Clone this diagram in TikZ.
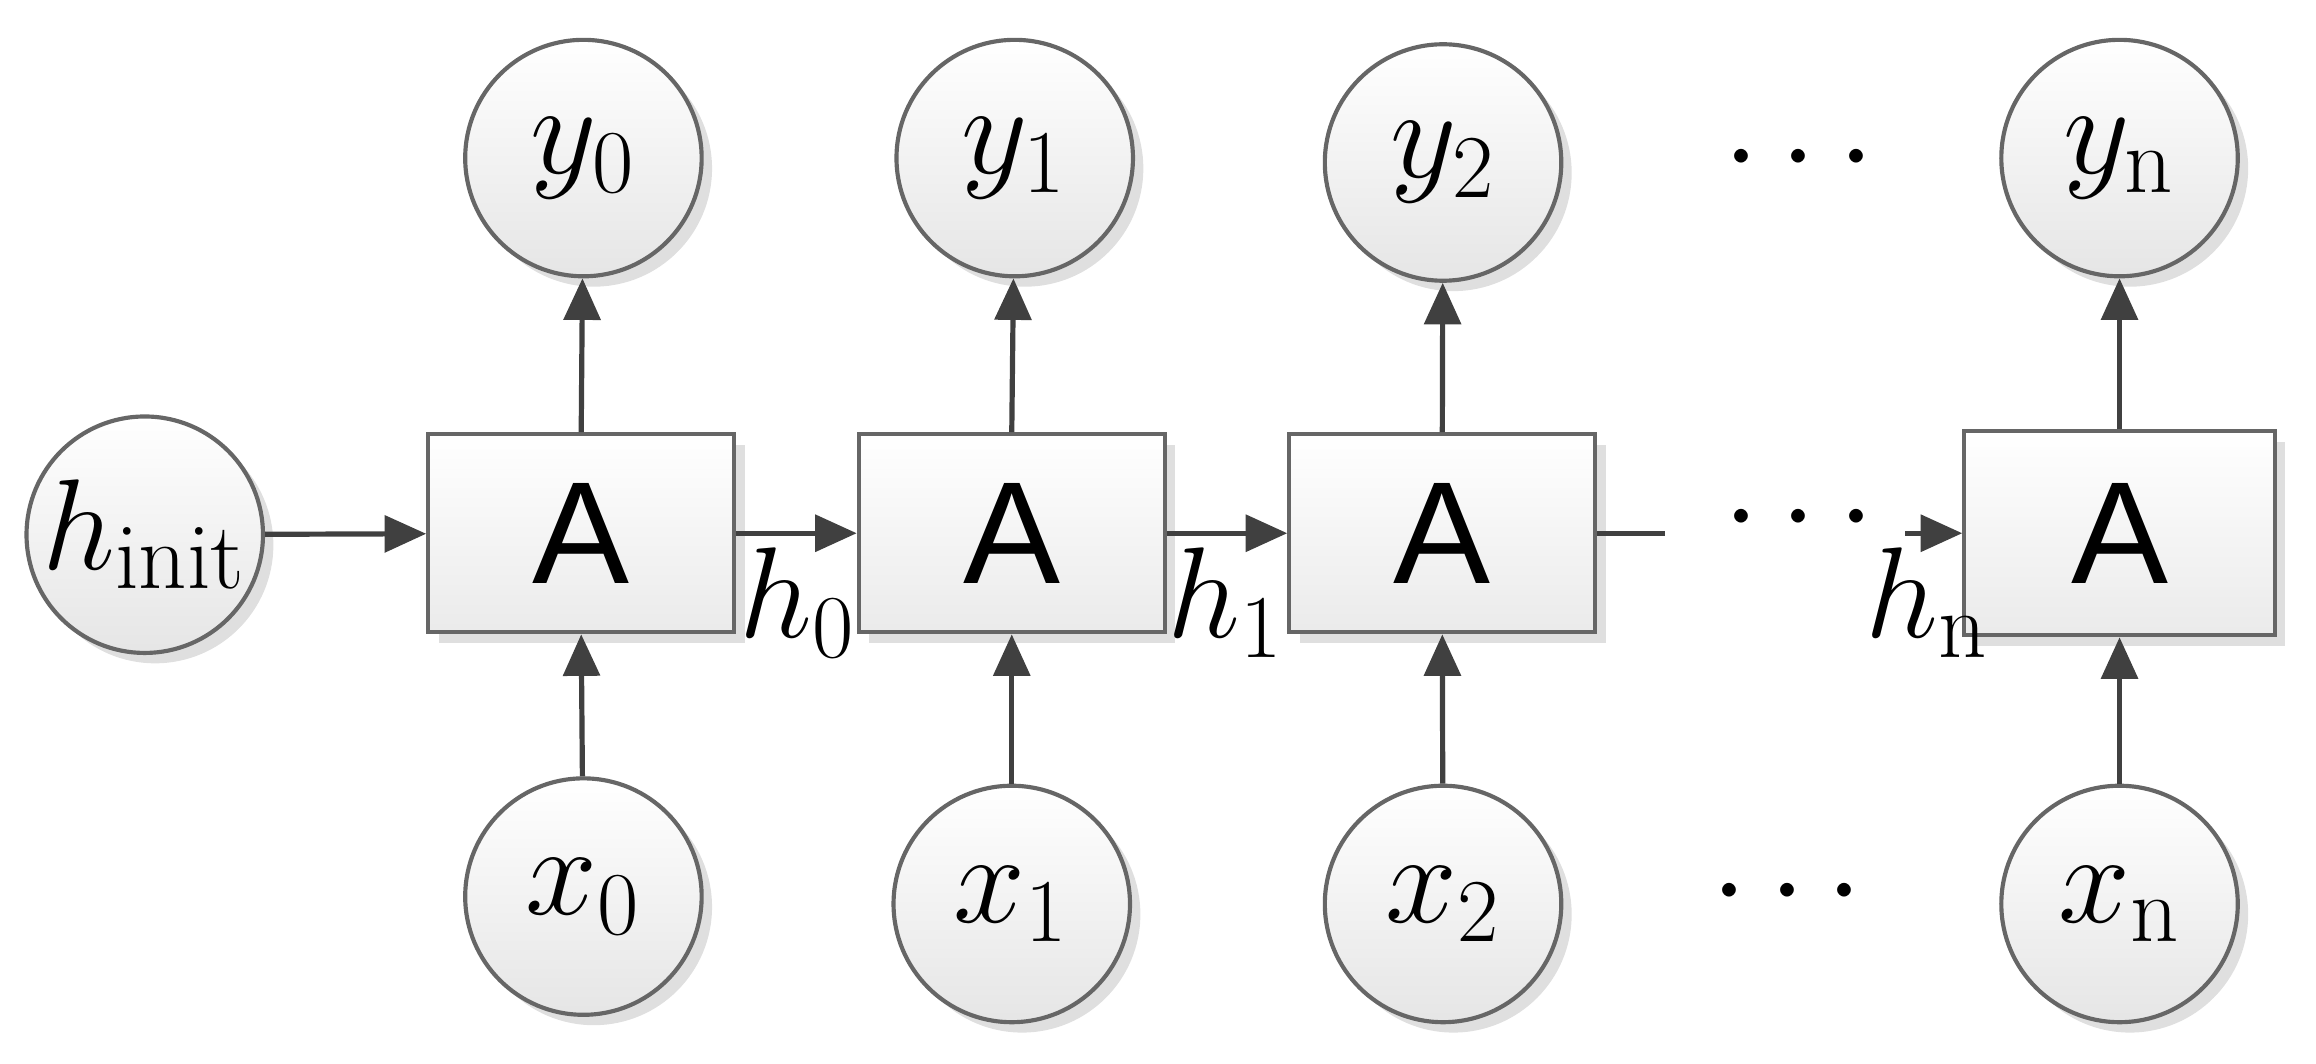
\documentclass[tikz,border=0pt]{standalone}
\usepackage{fontspec}
\newfontfamily\sansA{Liberation Sans}
\usetikzlibrary{arrows.meta,shadows}
\begin{document}
\begin{tikzpicture}[x=0.01cm,y=-0.01cm,
  circ/.style={circle,draw=black!60,line width=0.8pt,minimum size=1.6cm,inner sep=0pt,
    top color=white,bottom color=black!10,drop shadow={shadow xshift=2pt,shadow yshift=-2pt,opacity=0.25},
    font=\fontsize{26}{30}\selectfont},
  box/.style={draw=black!60,line width=0.8pt,minimum width=2.07cm,minimum height=1.34cm,inner sep=0pt,
    top color=white,bottom color=black!8,drop shadow={shadow xshift=2pt,shadow yshift=-2pt,opacity=0.25},
    font=\sansA\fontsize{28}{32}\selectfont},
  arr/.style={draw=black!75,line width=1pt,-{Triangle[length=8pt,width=7pt]}},
  lab/.style={font=\fontsize{26}{30}\selectfont,inner sep=0pt},
  dots/.style={font=\fontsize{30}{30}\selectfont\bfseries,inner sep=0pt}]
\useasboundingbox (0,0) rectangle (1568,720);
\node[circ] (hi) at (98,362) {$h_{\mathrm{init}}$};
\node[box] (A0) at (393.5,361) {A};
\node[box] (A1) at (685,361) {A};
\node[box] (A2) at (976.5,361) {A};
\node[box,minimum width=2.1cm,minimum height=1.38cm] (An) at (1435,361) {A};
\node[circ] (y0) at (395,107) {$y_0$};
\node[circ] (y1) at (687,107) {$y_1$};
\node[circ] (y2) at (977,110) {$y_2$};
\node[circ] (yn) at (1435,107) {$y_{\mathrm{n}}$};
\node[circ] (x0) at (395,607) {$x_0$};
\node[circ] (x1) at (685,612) {$x_1$};
\node[circ] (x2) at (977,612) {$x_2$};
\node[circ] (xn) at (1435,612) {$x_{\mathrm{n}}$};
\node[dots] (d1) at (1218,108) {$\cdots$};
\node[dots] (d2) at (1218,352) {$\cdots$};
\node[dots] (d3) at (1210,605) {$\cdots$};
\coordinate (e2) at (1127,361);
\coordinate (sn) at (1290,361);
\draw[arr] (hi) -- (A0);
\draw[arr] (A0) -- (A1);
\draw[arr] (A1) -- (A2);
\draw[draw=black!75,line width=1pt] (A2.east) -- (e2);
\draw[arr] (sn) -- (An.west);
\foreach \a/\b in {A0/y0,A1/y1,A2/y2,An/yn} \draw[arr] (\a.north) -- (\b);
\foreach \a/\b in {x0/A0,x1/A1,x2/A2,xn/An} \draw[arr] (\a) -- (\b.south);
\node[lab] (h0) at (540,408) {$h_0$};
\node[lab] (h1) at (830,408) {$h_1$};
\node[lab] (hn) at (1305,408) {$h_{\mathrm{n}}$};
\end{tikzpicture}
\end{document}
